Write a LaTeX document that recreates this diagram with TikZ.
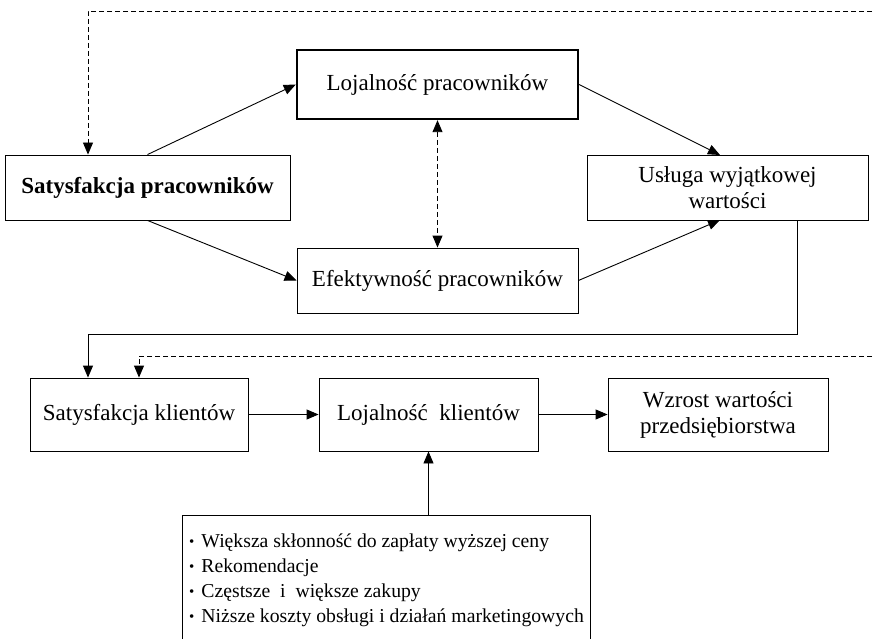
\documentclass[tikz,border=0pt]{standalone}
\usepackage{fontspec}
\setmainfont{Liberation Serif}
\usetikzlibrary{arrows.meta}
\newcommand{\blt}{{\fontsize{15}{15}\selectfont\raisebox{1pt}{•}}\hspace{7pt}}
\begin{document}
\begin{tikzpicture}[x=1pt,y=-1pt,
  box/.style={draw, line width=0.9pt, inner sep=0pt, align=center, font=\fontsize{23}{26}\selectfont},
  arr/.style={line width=0.9pt, -{Triangle[length=12pt,width=10pt]}},
  darr/.style={line width=0.9pt, dash pattern=on 5pt off 3pt, -{Triangle[length=12pt,width=10pt]}},
]
\useasboundingbox (0,0) rectangle (875,639);
\clip (0,0) rectangle (875,639);
\node[box, minimum width=285pt, minimum height=65pt, font=\fontsize{23}{26}\selectfont\bfseries] (sp) at (147.5,187.5) {Satysfakcja pracowników};
\node[box, line width=2.4pt, minimum width=281pt, minimum height=69pt] (lp) at (437.5,84.5) {Lojalność pracowników};
\node[box, minimum width=281pt, minimum height=65pt] (ep) at (437.5,280.5) {Efektywność pracowników};
\node[box, minimum width=281pt, minimum height=65pt] (uw) at (727.5,187.5) {Usługa wyjątkowej\\wartości};
\node[box, minimum width=218pt, minimum height=73pt] (sk) at (139,414.5) {Satysfakcja klientów};
\node[box, minimum width=219pt, minimum height=73pt] (lk) at (428.5,414.5) {Lojalność\ \ klientów};
\node[box, minimum width=220pt, minimum height=73pt] (wz) at (718,414.5) {Wzrost wartości\\przedsiębiorstwa};
\node[box, anchor=north west, minimum width=408pt, minimum height=140pt] (bb) at (182,515) {};
\node[anchor=west, inner sep=0pt, align=left, font=\fontsize{19.7}{25}\selectfont] (bt) at (189,580)
 {\blt Większa skłonność do zapłaty wyższej ceny\\
  \blt Rekomendacje\\
  \blt Częstsze\ \ i\ \ większe zakupy\\
  \blt Niższe koszty obsługi i działań marketingowych};
% upper arrows
\draw[arr] (sp.north) -- (lp.west);
\coordinate (uwt) at (720,155);
\coordinate (uwb) at (720,220);
\draw[arr] (lp.east) -- (uwt);
\draw[arr] (sp.south) -- (ep.west);
\draw[arr] (ep.east) -- (uwb);
\draw[darr, {Triangle[length=12pt,width=10pt]}-{Triangle[length=12pt,width=10pt]}] (lp.south) -- (ep.north);
% top dashed feedback
\coordinate (t1) at (880,11);
\coordinate (t2) at (88,11);
\draw[darr] (t1) -- (t2) -- (sp.north -| t2);
% solid link from uw to sk
\coordinate (s0) at (797,220);
\coordinate (s1) at (797,334);
\coordinate (s2) at (88,334);
\draw[arr] (s0) -- (s1) -- (s2) -- (sk.north -| s2);
% dashed to sk
\coordinate (d1) at (880,356);
\coordinate (d2) at (139,356);
\draw[darr] (d1) -- (d2) -- (sk.north);
% lower arrows
\draw[arr] (sk.east) -- (lk.west);
\draw[arr] (lk.east) -- (wz.west);
\draw[arr] (bb.north -| lk.south) -- (lk.south);
\end{tikzpicture}
\end{document}
